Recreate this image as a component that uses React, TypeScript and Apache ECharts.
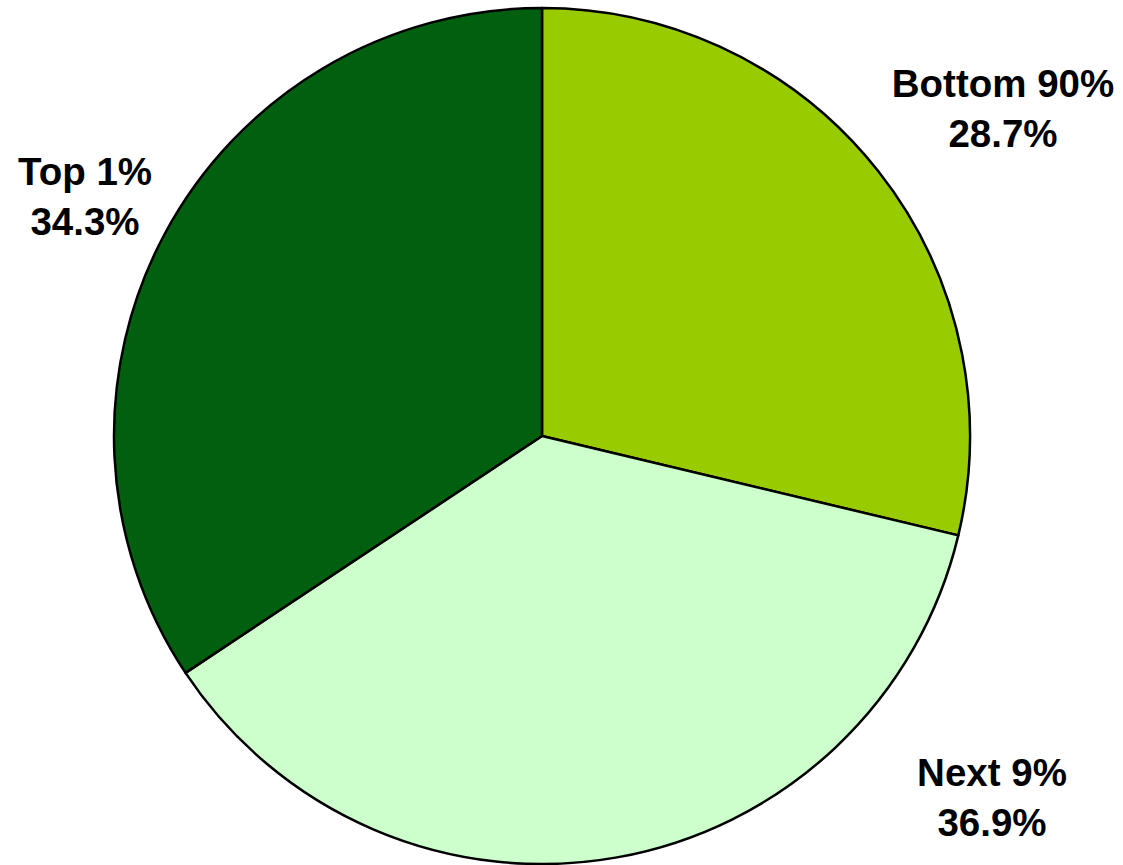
import React, { useEffect, useRef } from "react";
import * as echarts from "echarts";

const categories = ["Bottom 90%", "Next 9%", "Top 1%"];
const shares = [28.7, 36.9, 34.3];
const colors = ["#99CC00", "#CCFFCC", "#00600F"];
const labelCenters: [number, number][] = [
  [1003, 108],
  [992, 797],
  [85, 196],
];

export default function App() {
  const ref = useRef<HTMLDivElement>(null);
  useEffect(() => {
    if (!ref.current) return;
    const chart = echarts.init(ref.current, null, { renderer: "svg" });
    chart.setOption({
      animation: false,
      backgroundColor: "#ffffff",
      series: [
        {
          type: "pie",
          center: [542, 436],
          radius: [0, 428],
          startAngle: 90,
          clockwise: true,
          avoidLabelOverlap: false,
          data: categories.map((name, i) => ({
            name,
            value: shares[i],
            itemStyle: { color: colors[i] },
          })),
          itemStyle: { borderColor: "#000000", borderWidth: 2.5 },
          label: {
            show: true,
            position: "outside",
            formatter: (p: any) => `${p.name}\n${p.value.toFixed(1)}%`,
            fontFamily: "'Liberation Sans', Arial, sans-serif",
            fontWeight: "bold",
            fontSize: 38.5,
            lineHeight: 50,
            color: "#000000",
            align: "center",
          },
          labelLine: { show: false },
          labelLayout: (params: any) => {
            const c = labelCenters[params.dataIndex];
            return { x: c[0], y: c[1], align: "center", verticalAlign: "middle" };
          },
          emphasis: { disabled: true },
        },
      ],
    });
    return () => chart.dispose();
  }, []);
  return (
    <div
      ref={ref}
      style={{ position: "fixed", left: 0, top: 0, width: 1123, height: 865 }}
    />
  );
}
